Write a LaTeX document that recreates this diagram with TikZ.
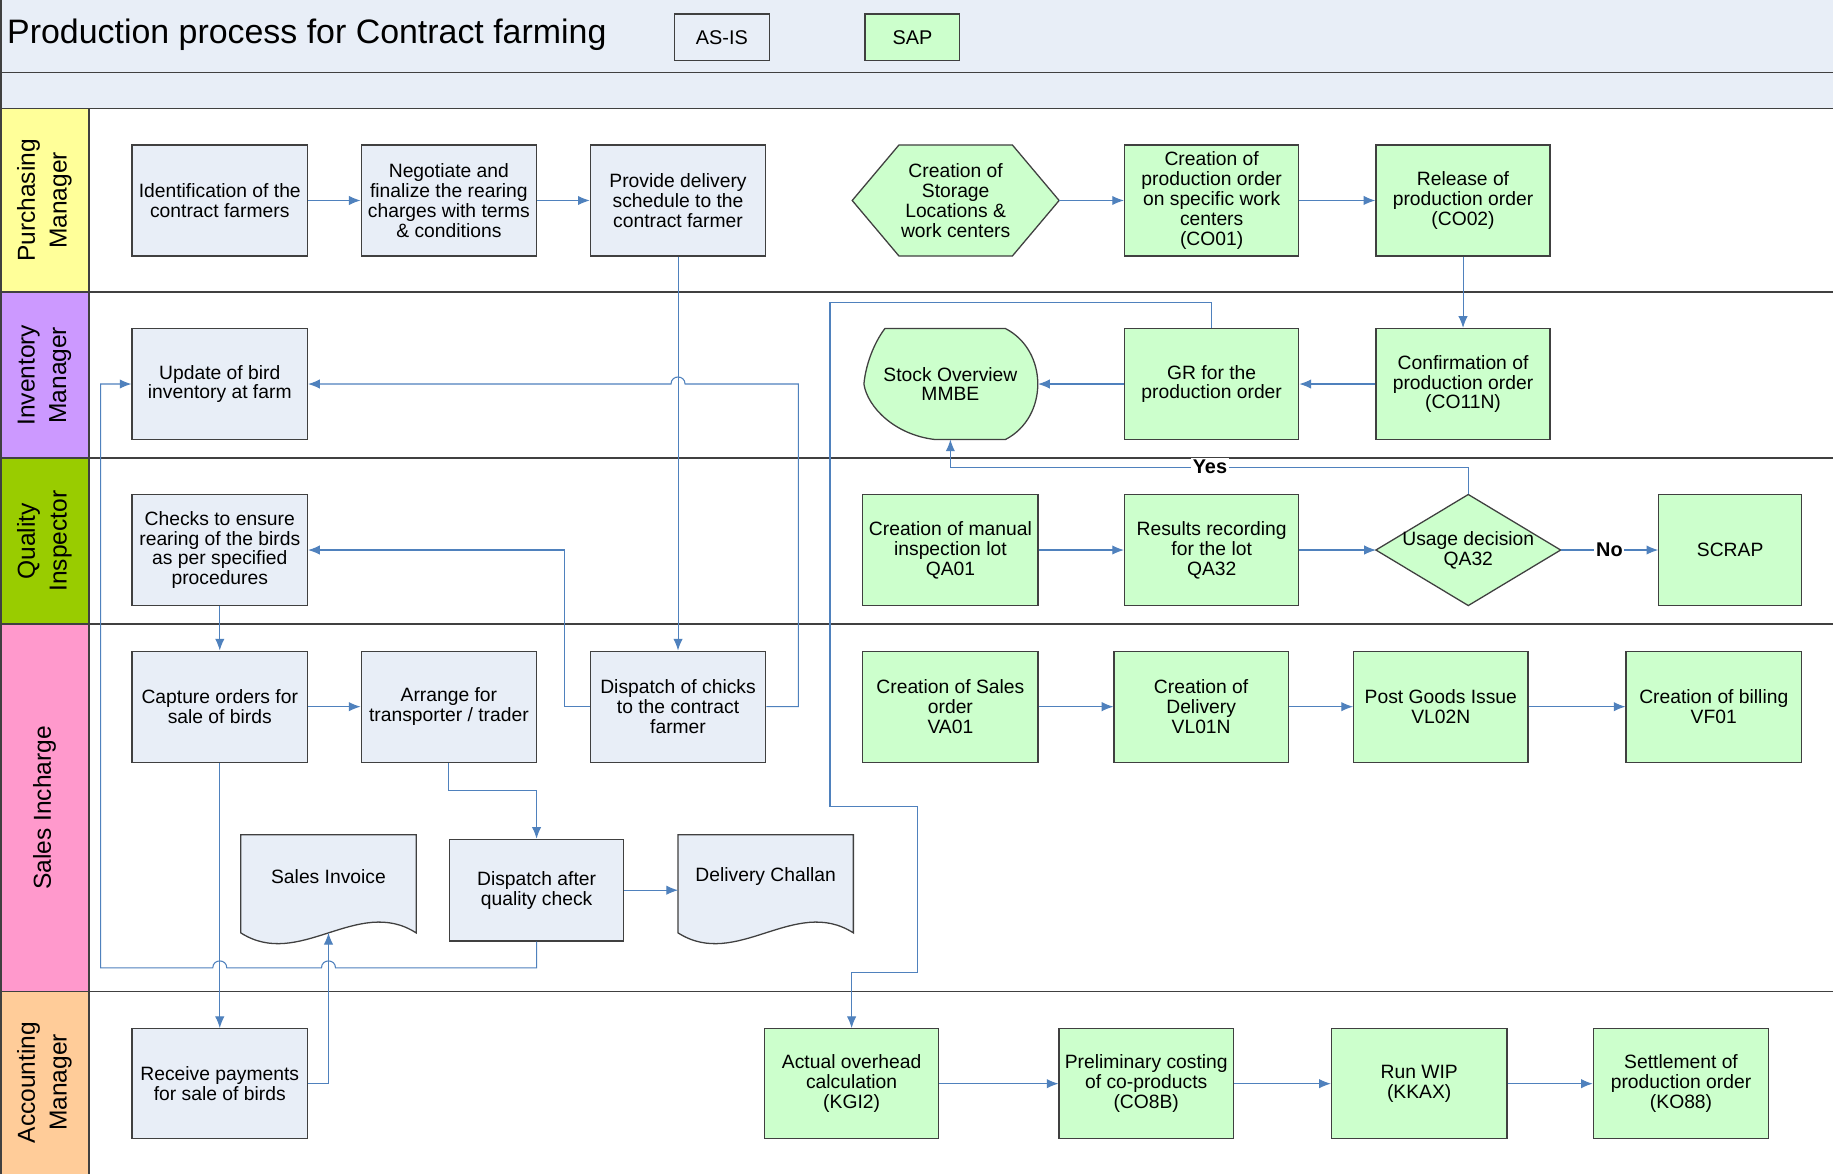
\documentclass[tikz,border=0pt]{standalone}
\usepackage{fontspec}
\setmainfont{Liberation Sans}
\usetikzlibrary{arrows.meta}
\definecolor{asis}{HTML}{E8EEF7}
\definecolor{sapg}{HTML}{CCFFCC}
\definecolor{conn}{HTML}{4F81BD}
\definecolor{lnY}{HTML}{FFFF99}
\definecolor{lnP}{HTML}{CC99FF}
\definecolor{lnG}{HTML}{99CC00}
\definecolor{lnK}{HTML}{FF99CC}
\definecolor{lnO}{HTML}{FFCC99}
\definecolor{edge}{HTML}{404040}
\begin{document}
\begin{tikzpicture}[x=1pt,y=-1pt,
  txt/.style={font=\fontsize{16.5}{17}\selectfont, align=center, inner sep=0pt},
  asisbox/.style={txt, draw=edge, fill=asis, line width=1.1pt, minimum width=150pt, minimum height=95pt},
  sapbox/.style={asisbox, fill=sapg},
  shp/.style={draw=edge, line width=1.1pt},
  flow/.style={draw=conn, line width=0.9pt, -{Latex[length=10pt,width=8pt]}},
  lane/.style={draw=edge, line width=1.3pt},
  lanelabel/.style={rotate=90, font=\fontsize{21}{27}\selectfont, align=center},
  lbl/.style={font=\bfseries\fontsize{17}{20}\selectfont, fill=white, inner sep=1.5pt},
]
\useasboundingbox (0,0) rectangle (1568,1004);
\fill[white] (0,0) rectangle (1568,1004);
% header
\fill[asis] (0,0) rectangle (1568,93);
\draw[lane] (0,62) -- (1568,62);
\draw[lane] (0,93) -- (1568,93);
\node[anchor=west, font=\fontsize{29}{33}\selectfont, inner sep=0pt] (title) at (6,30) {Production process for Contract farming};
\node[draw=edge, fill=asis, line width=1pt, minimum width=81pt, minimum height=40pt, font=\fontsize{17}{20}\selectfont] (legasis) at (617.5,32) {AS-IS};
\node[draw=edge, fill=sapg, line width=1pt, minimum width=81pt, minimum height=40pt, font=\fontsize{17}{20}\selectfont] (legsap) at (780.5,32) {SAP};
% lanes
\fill[lnY] (1,93) rectangle (76,250);
\fill[lnP] (1,250) rectangle (76,392);
\fill[lnG] (1,392) rectangle (76,534);
\fill[lnK] (1,534) rectangle (76,848);
\fill[lnO] (1,848) rectangle (76,1004);
\draw[lane] (76,93) -- (76,1004);
\draw[lane] (0.7,0) -- (0.7,1004);
\draw[lane] (0,250) -- (1568,250);
\draw[lane] (0,392) -- (1568,392);
\draw[lane] (0,534) -- (1568,534);
\draw[lane] (0,848) -- (1568,848);
\node[lanelabel] (lpm) at (38,171.5) {Purchasing\\Manager};
\node[lanelabel] (lim) at (38,321) {Inventory\\Manager};
\node[lanelabel] (lqi) at (38,463) {Quality\\Inspector};
\node[lanelabel] (lsi) at (38,691) {Sales Incharge};
\node[lanelabel] (lam) at (38,926) {Accounting\\Manager};
% Purchasing
\node[asisbox] (ident) at (188,171.5) {Identification of the\\contract farmers};
\node[asisbox] (nego) at (384,171.5) {Negotiate and\\finalize the rearing\\charges with terms\\\& conditions};
\node[asisbox] (prov) at (580,171.5) {Provide delivery\\schedule to the\\contract farmer};
\draw[shp, fill=sapg] (729,171.5) -- (769,124) -- (866,124) -- (906,171.5) -- (866,219) -- (769,219) -- cycle;
\node[txt] (hex) at (817.5,171.5) {Creation of\\Storage\\Locations \&\\work centers};
\coordinate (hexR) at (906,171.5);
\node[sapbox, minimum width=149pt] (co01) at (1036.5,171.5) {Creation of\\production order\\on specific work\\centers\\(CO01)};
\node[sapbox, minimum width=149pt] (co02) at (1251.5,171.5) {Release of\\production order\\(CO02)};
% Inventory
\node[asisbox] (upd) at (188,328.5) {Update of bird\\inventory at farm};
\draw[shp, fill=sapg] (757,281) -- (860,281) .. controls (897,300) and (897,357) .. (860,376) -- (800,376) .. controls (765,372) and (742,348) .. (739,328.5) .. controls (741,308) and (750,290) .. (757,281) -- cycle;
\node[txt] (stock) at (813,328.5) {Stock Overview\\MMBE};
\coordinate (stockR) at (888,328.5);
\coordinate (stockB) at (813,376);
\node[sapbox, minimum width=149pt] (gr) at (1036.5,328.5) {GR for the\\production order};
\node[sapbox, minimum width=149pt] (co11n) at (1251.5,328.5) {Confirmation of\\production order\\(CO11N)};
% Quality
\node[asisbox] (chk) at (188,470.5) {Checks to ensure\\rearing of the birds\\as per specified\\procedures};
\node[sapbox] (qa01) at (813,470.5) {Creation of manual\\inspection lot\\QA01};
\node[sapbox, minimum width=149pt] (qa32) at (1036.5,470.5) {Results recording\\for the lot\\QA32};
\draw[shp, fill=sapg] (1177,470.5) -- (1256,423) -- (1335,470.5) -- (1256,518) -- cycle;
\node[txt] (ud) at (1256,470.5) {Usage decision\\QA32};
\coordinate (udL) at (1177,470.5);
\coordinate (udR) at (1335,470.5);
\coordinate (udT) at (1256,423);
\node[sapbox, minimum width=122pt] (scrap) at (1480,470.5) {SCRAP};
% Sales
\node[asisbox] (cap) at (188,604.5) {Capture orders for\\sale of birds};
\node[asisbox] (arrg) at (384,604.5) {Arrange for\\transporter / trader};
\node[asisbox] (disp) at (580,604.5) {Dispatch of chicks\\to the contract\\farmer};
\node[sapbox] (va01) at (813,604.5) {Creation of Sales\\order\\VA01};
\node[sapbox, minimum width=149pt] (vl01n) at (1027.5,604.5) {Creation of\\Delivery\\VL01N};
\node[sapbox, minimum width=149pt] (vl02n) at (1232.5,604.5) {Post Goods Issue\\VL02N};
\node[sapbox] (vf01) at (1466,604.5) {Creation of billing\\VF01};
\draw[shp, fill=asis] (206,714) -- (356,714) -- (356,798) .. controls (306,766) and (256,830) .. (206,798) -- cycle;
\node[txt] (sinv) at (281,750) {Sales Invoice};
\coordinate (sinvB) at (281,798);
\node[asisbox, minimum width=149pt, minimum height=87pt] (dqc) at (459,761.5) {Dispatch after\\quality check};
\draw[shp, fill=asis] (580,714) -- (730,714) -- (730,798) .. controls (680,766) and (630,830) .. (580,798) -- cycle;
\node[txt] (dch) at (655,750) {Delivery Challan};
\coordinate (dchW) at (580,761.5);
% Accounting
\node[asisbox, minimum height=94pt] (rcv) at (188,927) {Receive payments\\for sale of birds};
\node[sapbox, minimum height=94pt, minimum width=149pt] (kgi2) at (728.5,927) {Actual overhead\\calculation\\(KGI2)};
\node[sapbox, minimum height=94pt, minimum width=149pt] (co8b) at (980.5,927) {Preliminary costing\\of co-products\\(CO8B)};
\node[sapbox, minimum height=94pt] (kkax) at (1214,927) {Run WIP\\(KKAX)};
\node[sapbox, minimum height=94pt] (ko88) at (1438,927) {Settlement of\\production order\\(KO88)};
% connectors
\draw[flow] (ident) -- (nego);
\draw[flow] (nego) -- (prov);
\draw[flow] (hexR) -- (co01);
\draw[flow] (co01) -- (co02);
\draw[flow] (co02) -- (co11n);
\draw[flow] (co11n) -- (gr);
\draw[flow] (gr) -- (stockR);
\draw[flow] (gr.north) |- (710,259) -- (710,690) -| (785,832) -| (kgi2.north);
\draw[flow] (prov.south) -- (disp.north);
\draw[flow] (disp.east) -| (683,328.5) -- (586,328.5) .. controls (586,320.5) and (574,320.5) .. (574,328.5) -- (upd.east);
\draw[flow] (disp.west) -| (483,470.5) -- (chk.east);
\draw[flow] (chk) -- (cap);
\draw[flow] (cap) -- (arrg);
\draw[flow] (arrg.south) |- (459,676) -- (dqc.north);
\draw[flow] (dqc.east) -- (dchW);
\draw[flow] (dqc.south) -- (459,828) -- (287,828) .. controls (287,820) and (275,820) .. (275,828) -- (194,828) .. controls (194,820) and (182,820) .. (182,828) -- (86,828) -- (86,328.5) -- (upd.west);
\draw[flow] (cap.south) -- (rcv.north);
\draw[flow] (rcv.east) -| (sinvB);
\draw[flow] (qa01) -- (qa32);
\draw[flow] (qa32) -- (udL);
\draw[flow] (udR) -- (scrap.west) node[lbl, midway] (no) {No};
\draw[flow] (udT) |- (813,400) -- (stockB);
\node[lbl] (yes) at (1035,399) {Yes};
\draw[flow] (va01) -- (vl01n);
\draw[flow] (vl01n) -- (vl02n);
\draw[flow] (vl02n) -- (vf01);
\draw[flow] (kgi2) -- (co8b);
\draw[flow] (co8b) -- (kkax);
\draw[flow] (kkax) -- (ko88);
\end{tikzpicture}
\end{document}
